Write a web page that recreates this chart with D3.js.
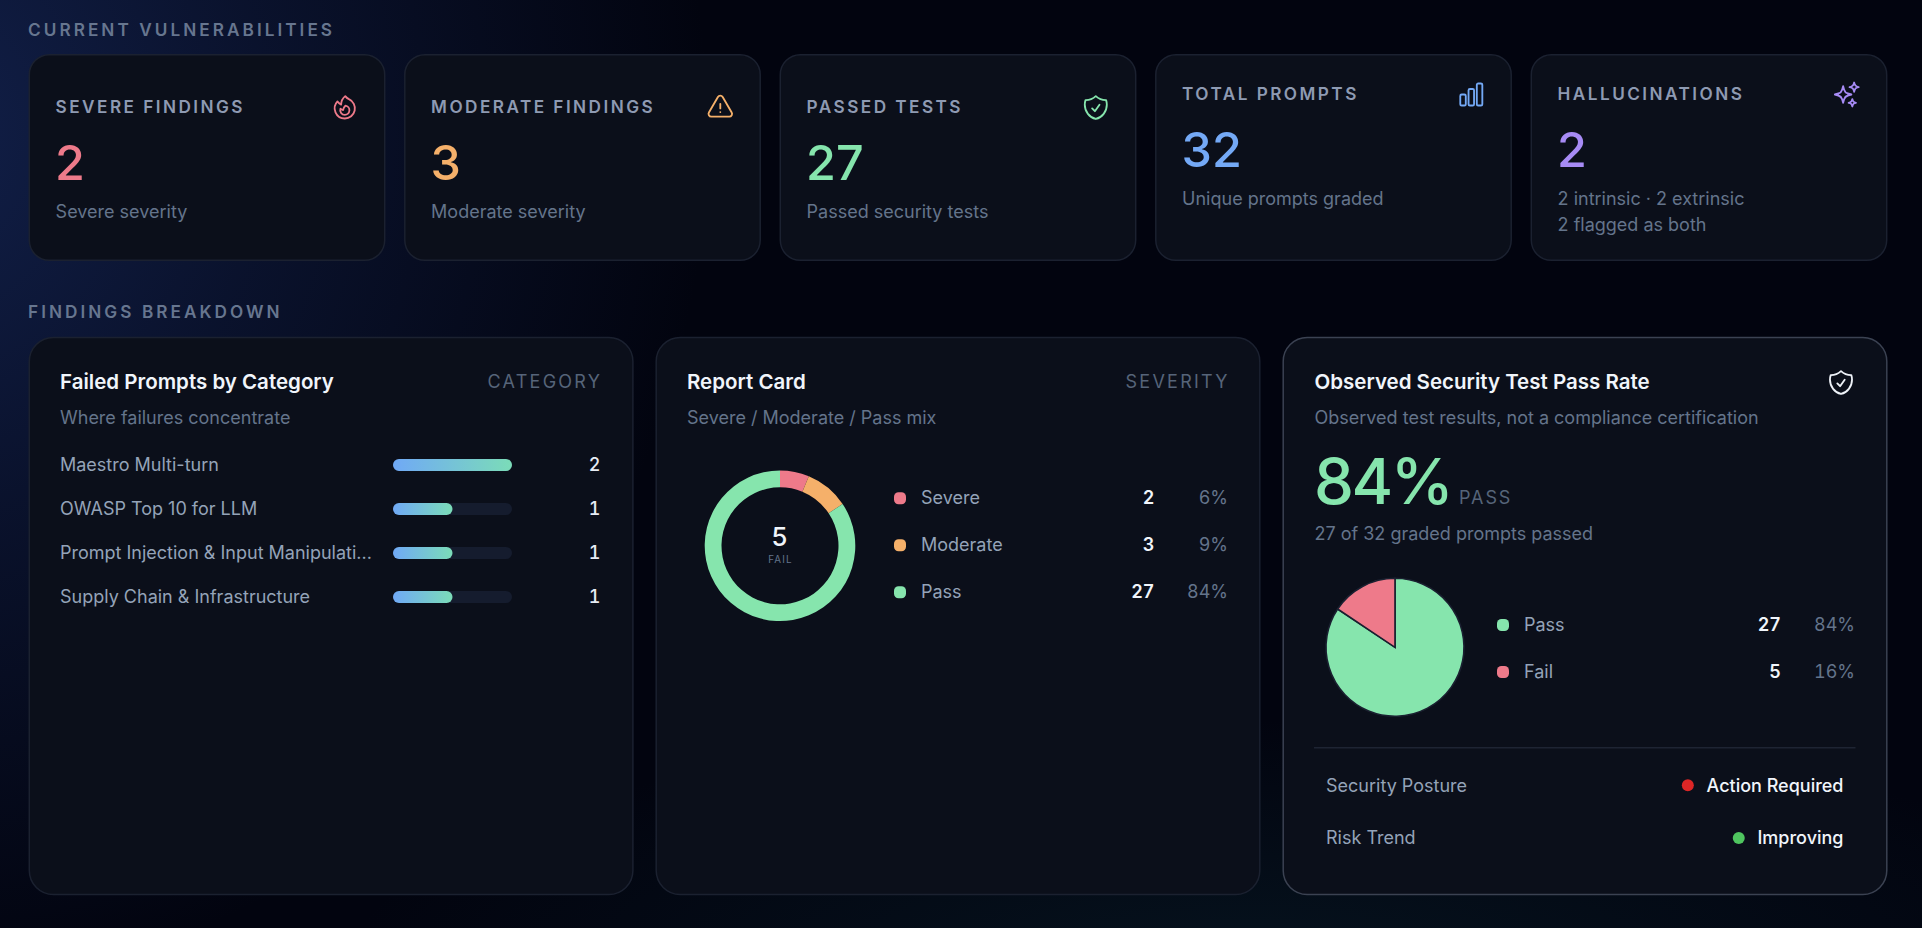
<!DOCTYPE html>
<html><head><meta charset="utf-8">
<script src="https://cdn.jsdelivr.net/npm/d3@7/dist/d3.min.js"></script>
<style>
html,body{margin:0;padding:0;width:100%;height:100%;overflow:hidden;background:#02040f}
body{background:
 radial-gradient(ellipse 800px 860px at -90px 130px,rgba(28,50,112,.6) 0%,rgba(28,50,112,.3) 45%,rgba(28,50,112,0) 100%),
 radial-gradient(ellipse 900px 240px at 1250px 960px,rgba(12,44,56,.35),rgba(12,44,56,0) 100%),
 #02040f}
svg{display:block;position:absolute;left:0;top:0}
text{font-family:Inter,"Noto Sans",sans-serif;-webkit-font-smoothing:antialiased;font-kerning:normal}
.num{font-variant-numeric:tabular-nums}
</style></head><body><svg id="c" width="1922" height="928"></svg>
<script>
const sectionTitles=["CURRENT VULNERABILITIES","FINDINGS BREAKDOWN"];
const kpiLabels=["SEVERE FINDINGS","MODERATE FINDINGS","PASSED TESTS","TOTAL PROMPTS","HALLUCINATIONS"];
const kpiValues=[2,3,27,32,2];
const kpiSubs=[["Severe severity"],["Moderate severity"],["Passed security tests"],["Unique prompts graded"],["2 intrinsic · 2 extrinsic","2 flagged as both"]];
const kpiColors=["#ee7a8a","#f5b06a","#86e5ad","#74a9f6","#a78bf5"];
const categories=["Maestro Multi-turn","OWASP Top 10 for LLM","Prompt Injection & Input Manipulati...","Supply Chain & Infrastructure"];
const categoryValues=[2,1,1,1];
const severityLabels=["Severe","Moderate","Pass"];
const severityValues=[2,3,27];
const severityPct=["6%","9%","84%"];
const severityColors=["#ee7a8a","#f5b06a","#86e5ad"];
const passLabels=["Pass","Fail"];
const passValues=[27,5];
const passPct=["84%","16%"];
const passColors=["#86e5ad","#ee7a8a"];
const statusLabels=["Security Posture","Risk Trend"];
const statusValues=["Action Required","Improving"];
const statusColors=["#dc2626","#4fc55f"];

const ICONS={
fire:["M15.362 5.214A8.252 8.252 0 0 1 12 21 8.25 8.25 0 0 1 6.038 7.047 8.287 8.287 0 0 0 9 9.601a8.983 8.983 0 0 1 3.361-6.867 8.21 8.21 0 0 0 3 2.48Z","M12 18a3.75 3.75 0 0 0 .495-7.468 5.99 5.99 0 0 0-1.925 3.547 5.975 5.975 0 0 1-2.133-1.001A3.75 3.75 0 0 0 12 18Z"],
warn:["M12 9v3.75m-9.303 3.376c-.866 1.5.217 3.374 1.948 3.374h14.71c1.73 0 2.813-1.874 1.948-3.374L13.949 3.378c-.866-1.5-3.032-1.5-3.898 0L2.697 16.126ZM12 15.75h.007v.008H12v-.008Z"],
shield:["M9 12.75 11.25 15 15 9.75m-3-7.036A11.959 11.959 0 0 1 3.598 6 11.99 11.99 0 0 0 3 9.749c0 5.592 3.824 10.29 9 11.623 5.176-1.332 9-6.03 9-11.622 0-1.31-.21-2.571-.598-3.751h-.152c-3.196 0-6.1-1.248-8.25-3.285Z"],
bars:["M3 13.125C3 12.504 3.504 12 4.125 12h2.25c.621 0 1.125.504 1.125 1.125v6.75C7.5 20.496 6.996 21 6.375 21h-2.25A1.125 1.125 0 0 1 3 19.875v-6.75ZM9.75 8.625c0-.621.504-1.125 1.125-1.125h2.25c.621 0 1.125.504 1.125 1.125v11.25c0 .621-.504 1.125-1.125 1.125h-2.25a1.125 1.125 0 0 1-1.125-1.125V8.625ZM16.5 4.125c0-.621.504-1.125 1.125-1.125h2.25C20.496 3 21 3.504 21 4.125v15.75c0 .621-.504 1.125-1.125 1.125h-2.25a1.125 1.125 0 0 1-1.125-1.125V4.125Z"],
spark:["M9.813 15.904 9 18.75l-.813-2.846a4.5 4.5 0 0 0-3.09-3.09L2.25 12l2.846-.813a4.5 4.5 0 0 0 3.09-3.09L9 5.25l.813 2.846a4.5 4.5 0 0 0 3.09 3.09L15.75 12l-2.846.813a4.5 4.5 0 0 0-3.09 3.09ZM18.259 8.715 18 9.75l-.259-1.035a3.375 3.375 0 0 0-2.455-2.456L14.25 6l1.036-.259a3.375 3.375 0 0 0 2.455-2.456L18 2.25l.259 1.035a3.375 3.375 0 0 0 2.456 2.456L21.75 6l-1.035.259a3.375 3.375 0 0 0-2.456 2.456ZM16.894 20.567 16.5 21.75l-.394-1.183a2.25 2.25 0 0 0-1.423-1.423L13.5 18.75l1.183-.394a2.25 2.25 0 0 0 1.423-1.423l.394-1.183.394 1.183a2.25 2.25 0 0 0 1.423 1.423l1.183.394-1.183.394a2.25 2.25 0 0 0-1.423 1.423Z"]};
const kpiIcons=["fire","warn","shield","bars","spark"];

const svg=d3.select("#c");
const defs=svg.append("defs");
const g=defs.append("linearGradient").attr("id","bar");
g.append("stop").attr("offset","0").attr("stop-color","#70a9f6");
g.append("stop").attr("offset","1").attr("stop-color","#7bdcb8");

function T(x,y,s,o={}){
  const e=svg.append("text").attr("x",x).attr("y",y).text(s)
    .attr("font-size",o.size||18).attr("font-weight",o.w||400).attr("fill",o.fill||"#94a3b8")
    .attr("text-anchor",o.a||"start");
  if(o.ls){e.style("letter-spacing",o.ls+"px"); if(o.a==="end")e.attr("x",x+o.ls);}
  if(o.num)e.attr("class","num");
  return e;
}
function card(x,y,w,h,r,stroke){
  svg.append("rect").attr("x",x+.7).attr("y",y+.7).attr("width",w-1.4).attr("height",h-1.4).attr("rx",r)
    .attr("fill","#0b0f1a").attr("stroke",stroke||"#1b2130").attr("stroke-width",1.5);
}
function icon(name,cx,cy,color){
  const s=29.4/24;
  const gg=svg.append("g").attr("transform",`translate(${cx-14.7},${cy-14.7}) scale(${s})`)
    .attr("fill","none").attr("stroke",color).attr("stroke-width",1.5)
    .attr("stroke-linecap","round").attr("stroke-linejoin","round");
  ICONS[name].forEach(d=>gg.append("path").attr("d",d));
}
const SEC={size:17.2,w:600,fill:"#67768f",ls:3.04};
T(28,35.7,sectionTitles[0],SEC);
T(28,317.5,sectionTitles[1],SEC);

// KPI cards
const kpiW=356.8, kpiStep=375.5, kpiX0=28.6;
kpiLabels.forEach((l,i)=>{
  const x=kpiX0+i*kpiStep, top=54, up=i>=3?13:0;
  card(x,top,kpiW,207,20);
  T(x+27,113.2-up,l,{size:17.2,w:600,fill:"#8e9ab2",ls:2.45});
  T(x+26.5,180-up,kpiValues[i],{size:48.5,w:450,fill:kpiColors[i]});
  kpiSubs[i].forEach((s,j)=>T(x+27,217.5-up+j*26,s,{fill:"#64748b"}));
  icon(kpiIcons[i],x+kpiW-40.6,107.5-up,kpiColors[i]);
});

// Panels
const panelX=[28.6,655.5,1282.5], panelW=605, panelTop=336.7, panelH=558.5;
panelX.forEach((x,i)=>card(x,panelTop,panelW,panelH,24,i===2?"#3b4252":"#1b2130"));

const TITLE={size:20.5,w:600,fill:"#f1f5fb"};
const TAG={size:18,fill:"#566479",ls:2.25};
const SUB={size:18,fill:"#64748b"};

// Category panel
T(60,389.2,"Failed Prompts by Category",TITLE);
T(600,388,"CATEGORY",{...TAG,a:"end"});
T(60,423.5,"Where failures concentrate",SUB);
const yRow=d3.scalePoint().domain(categories).range([465,597]);
const xBar=d3.scaleLinear().domain([0,d3.max(categoryValues)]).range([0,119]);
categories.forEach((c,i)=>{
  const y=yRow(c);
  T(60,y+6,c,{fill:"#94a3b8"});
  svg.append("rect").attr("x",393).attr("y",y-6).attr("width",xBar.range()[1]).attr("height",12).attr("rx",6).attr("fill","#151c2e");
  svg.append("rect").attr("x",393).attr("y",y-6).attr("width",xBar(categoryValues[i])).attr("height",12).attr("rx",6).attr("fill","url(#bar)");
  T(600.5,y+6,categoryValues[i],{a:"end",fill:"#e8ecf4",w:500,num:true});
});

// legend helper
function legend(labels,vals,pct,cols,dotX,labX,cntX,pctX,yScale){
  labels.forEach((l,i)=>{
    const y=yScale(l);
    svg.append("rect").attr("x",dotX-6).attr("y",y-6).attr("width",12).attr("height",12).attr("rx",4.5).attr("fill",cols[i]);
    T(labX,y+6.2,l,{fill:"#94a3b8"});
    T(cntX,y+6.2,vals[i],{a:"end",w:600,fill:"#f1f5fb",num:true});
    T(pctX,y+6.2,pct[i],{a:"end",fill:"#64748b",num:true});
  });
}

// Report card
T(687,389.2,"Report Card",TITLE);
T(1227.5,388,"SEVERITY",{...TAG,a:"end"});
T(687,423.5,"Severe / Moderate / Pass mix",SUB);
const pie=d3.pie().sort(null);
const donut=d3.arc().innerRadius(58.5).outerRadius(75.3);
const dg=svg.append("g").attr("transform","translate(780,545.8)");
dg.selectAll("path").data(pie(severityValues)).join("path").attr("d",donut).attr("fill",(d,i)=>severityColors[i]);
T(779.5,546,"5",{a:"middle",size:25.7,w:450,fill:"#f1f5fb"});
T(780.5,563.3,"FAIL",{a:"middle",size:9.8,fill:"#64748b",ls:1.2});
legend(severityLabels,severityValues,severityPct,severityColors,900,921,1154.5,1228,
  d3.scalePoint().domain(severityLabels).range([498.2,592.2]));

// Pass rate
T(1314.5,389.2,"Observed Security Test Pass Rate",TITLE);
icon("shield",1841,382.5,"#eef2f8");
T(1314.5,423.5,"Observed test results, not a compliance certification",SUB);
T(1314,504,"84%",{size:63.5,w:450,fill:"#86e5ad",ls:-2.4});
T(1459,504,"PASS",{size:18,fill:"#566479",ls:1.9});
T(1314.5,540,"27 of 32 graded prompts passed",SUB);
const arc=d3.arc().innerRadius(0).outerRadius(69);
const pg=svg.append("g").attr("transform","translate(1395,647.3)");
pg.selectAll("path").data(pie(passValues)).join("path").attr("d",arc).attr("fill",(d,i)=>passColors[i])
  .attr("stroke","#1a2030").attr("stroke-width",1.6);
legend(passLabels,passValues,passPct,passColors,1503,1524,1781,1855,
  d3.scalePoint().domain(passLabels).range([625,672]));
svg.append("line").attr("x1",1314).attr("x2",1855.5).attr("y1",747.7).attr("y2",747.7).attr("stroke","#1e2433").attr("stroke-width",1.5);
const yStatus=d3.scalePoint().domain(statusLabels).range([785.3,838]);
statusLabels.forEach((l,i)=>{
  const y=yStatus(l);
  T(1326,y+6.2,l,{fill:"#94a3b8"});
  const v=T(1843.5,y+6.2,statusValues[i],{a:"end",w:500,fill:"#f1f5fb"});
  const w=v.node().getComputedTextLength();
  svg.append("circle").attr("cx",1843.5-w-18.7).attr("cy",y).attr("r",6).attr("fill",statusColors[i]);
});
</script></body></html>
